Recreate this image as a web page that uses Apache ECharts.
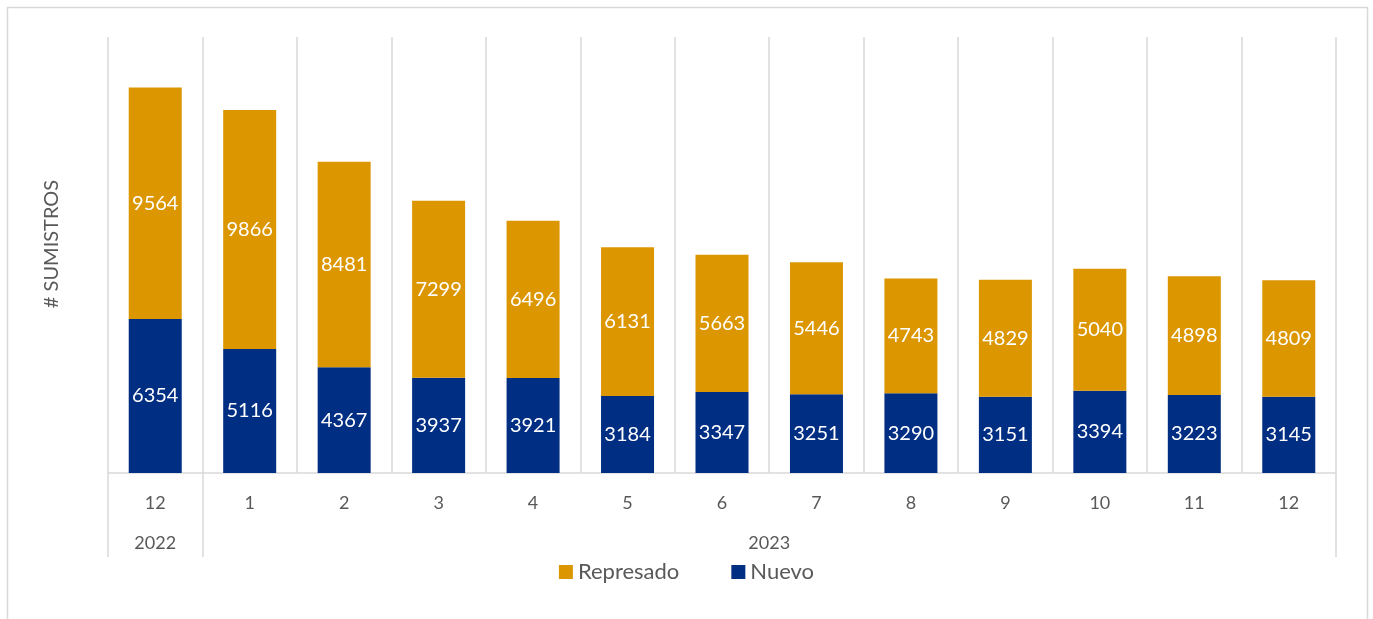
<!DOCTYPE html>
<html>
<head>
<meta charset="utf-8">
<script src="https://cdn.jsdelivr.net/npm/echarts@6/dist/echarts.min.js"></script>
<style>
  html, body { margin: 0; padding: 0; background: #fff; }
  #main { width: 1373px; height: 619px; }
</style>
</head>
<body>
<div id="main"></div>
<script>
// meses (2022-12 .. 2023-12)
const months = ['12', '1', '2', '3', '4', '5', '6', '7', '8', '9', '10', '11', '12'];
const nuevo = [6354, 5116, 4367, 3937, 3921, 3184, 3347, 3251, 3290, 3151, 3394, 3223, 3145];
const represado = [9564, 9866, 8481, 7299, 6496, 6131, 5663, 5446, 4743, 4829, 5040, 4898, 4809];
// año: posición en medias-categorías -> etiqueta
const yearLabels = { 1: '2022', 14: '2023' };

const font = 'Lato, "Open Sans", sans-serif';
const grey = '#595959';
const lineGrey = '#d9d9d9';

let myChart = echarts.init(document.getElementById('main'));

let option = {
  animation: false,
  textStyle: { fontFamily: font },
  graphic: [{
    type: 'rect',
    shape: { x: 7.5, y: 7.5, width: 1360, height: 640 },
    style: { fill: 'none', stroke: lineGrey, lineWidth: 1.5 },
    silent: true
  }],
  grid: { left: 108, right: 37, top: 37, bottom: 146 },
  legend: {
    data: ['Represado', 'Nuevo'],
    bottom: 31,
    left: 'center',
    icon: 'rect',
    itemWidth: 14,
    itemHeight: 14,
    itemGap: 52,
    textStyle: { color: grey, fontSize: 22, fontFamily: font }
  },
  xAxis: [
    {
      type: 'category',
      data: months,
      axisLine: { show: true, lineStyle: { color: lineGrey, width: 1.5 } },
      // separadores del año: bordes 0, 1 y el final
      axisTick: {
        show: true,
        length: 84,
        interval: function (i) { return i === 0 || i === 1; },
        lineStyle: { color: lineGrey, width: 1.5 }
      },
      splitLine: { show: true, interval: 0, lineStyle: { color: lineGrey, width: 1.5 } },
      axisLabel: { color: grey, fontSize: 18, margin: 21, fontFamily: font }
    },
    {
      type: 'value',
      min: 0,
      max: 26,
      interval: 1,
      position: 'bottom',
      axisLine: { show: false },
      axisTick: { show: false },
      splitLine: { show: false },
      axisLabel: {
        color: grey,
        fontSize: 18,
        margin: 61,
        fontFamily: font,
        showMinLabel: true,
        showMaxLabel: true,
        formatter: function (v) { return yearLabels[v] || ''; }
      }
    }
  ],
  yAxis: {
    type: 'value',
    min: 0,
    max: 18000,
    name: '# SUMISTROS',
    nameLocation: 'middle',
    nameGap: 46,
    nameRotate: 90,
    nameTextStyle: { color: grey, fontSize: 20, fontFamily: font, padding: [0, 0, 0, 22] },
    axisLine: { show: false },
    axisTick: { show: false },
    axisLabel: { show: false },
    splitLine: { show: false }
  },
  series: [
    {
      name: 'Nuevo',
      type: 'bar',
      stack: 'total',
      barWidth: 53,
      data: nuevo,
      itemStyle: { color: '#002E83' },
      label: { show: true, position: 'inside', color: '#fff', fontSize: 20, fontFamily: font }
    },
    {
      name: 'Represado',
      type: 'bar',
      stack: 'total',
      barWidth: 53,
      data: represado,
      itemStyle: { color: '#DC9600' },
      label: { show: true, position: 'inside', color: '#fff', fontSize: 20, fontFamily: font }
    }
  ]
};

myChart.setOption(option);
</script>
</body>
</html>
